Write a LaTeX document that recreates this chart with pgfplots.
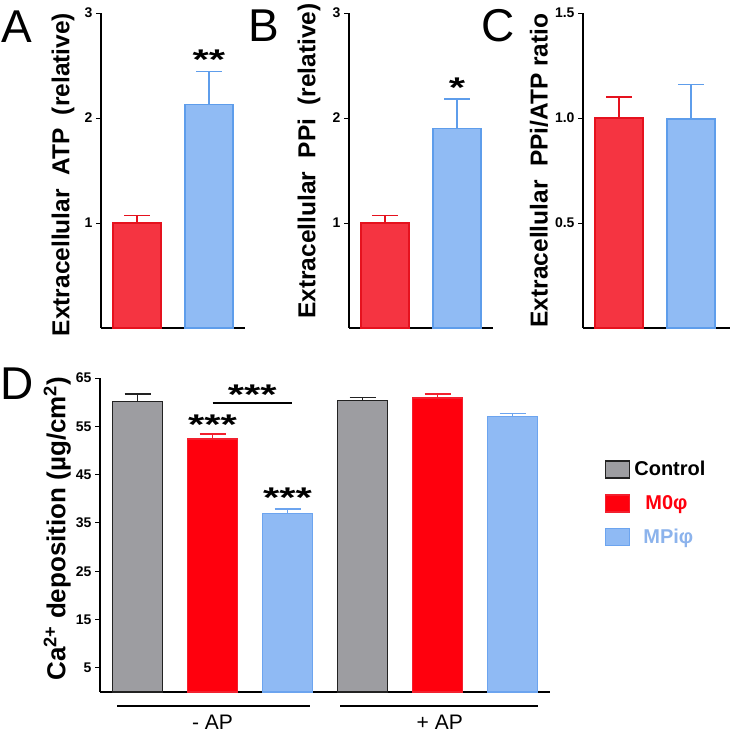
\documentclass[border=0pt]{standalone}
\usepackage{pgfplots}
\pgfplotsset{compat=1.18}
\usepackage{fontspec}
\setmainfont{Liberation Sans}
\definecolor{redA}{HTML}{F53441}
\definecolor{redAe}{HTML}{E5121E}
\definecolor{blueA}{HTML}{90BBF4}
\definecolor{blueAe}{HTML}{5E9DEB}
\definecolor{grayD}{HTML}{9D9DA1}
\definecolor{grayDe}{HTML}{222222}
\definecolor{redD}{HTML}{FF000D}
\definecolor{redDe}{HTML}{F2202E}
\definecolor{blueD}{HTML}{8FBAF4}
\definecolor{blueDe}{HTML}{6CA4EF}
\definecolor{blueT}{HTML}{8CB3EC}
\tikzset{starnode/.style={font=\bfseries\fontsize{38}{38}\selectfont, anchor=base, inner sep=0,
   xscale=1.1, yscale=0.75, transform shape}}
\pgfplotsset{
 panel/.style={
  scale only axis,
  axis x line=bottom, axis y line=left,
  axis line style={line width=1.1pt, -},
  xtick=\empty,
  ytick style={line width=0.9pt, black},
  tick align=outside, major tick length=5pt,
  ymin=0,
  clip=false,
  ticklabel style={font=\bfseries\fontsize{14}{14}\selectfont},
  /pgf/number format/assume math mode=true,
  every axis y label/.style={rotate=90, anchor=center, font=\bfseries\fontsize{24.5}{24.5}\selectfont},
 },
 bars/.style n args={3}{ybar, bar shift=0pt, bar width=#1, fill=#2, draw=#3, line width=1.4pt,
   error bars/y dir=plus, error bars/y explicit,
   error bars/error mark=|,
   error bars/error bar style={#3, line width=1.4pt},
   error bars/error mark options={#3, line width=1.4pt, mark size=13pt}},
 mylegend/.style={legend image code/.code={\draw[##1] (0pt,-8.5pt) rectangle (24pt,8.5pt);}},
}
\newcommand{\wsp}{\hspace{0.55em}}
\begin{document}
\begin{tikzpicture}
\useasboundingbox (0,0) rectangle (730pt,733pt);
% Panel A
\begin{axis}[panel, at={(101pt,405pt)}, anchor=south west, width=144pt, height=315pt,
  xmin=0.5, xmax=2.5, ymax=3, ytick={1,2,3},
  ylabel={Extracellular\wsp ATP\wsp (relative)},
  ylabel style={at={(axis description cs:-0.264,0.487)}}]
\addplot[bars={48pt}{redA}{redAe}] coordinates {(1,1.0) +- (0,0.07)};
\addplot[bars={48pt}{blueA}{blueAe}] coordinates {(2,2.13) +- (0,0.31)};
\node[starnode] at (axis cs:2,2.462) {**};
\end{axis}
% Panel B
\begin{axis}[panel, at={(349pt,405pt)}, anchor=south west, width=144pt, height=315pt,
  xmin=0.5, xmax=2.5, ymax=3, ytick={1,2,3},
  ylabel={Extracellular\wsp PPi\wsp (relative)},
  ylabel style={at={(axis description cs:-0.278,0.53)}}]
\addplot[bars={48pt}{redA}{redAe}] coordinates {(1,1.0) +- (0,0.07)};
\addplot[bars={48pt}{blueA}{blueAe}] coordinates {(2,1.90) +- (0,0.28)};
\node[starnode] at (axis cs:2,2.195) {*};
\end{axis}
% Panel C
\begin{axis}[panel, at={(583pt,405pt)}, anchor=south west, width=147.6pt, height=315pt,
  xmin=0.5, xmax=2.55, ymax=1.5, ytick={0.5,1.0,1.5},
  yticklabel style={/pgf/number format/.cd, fixed, fixed zerofill, precision=1},
  ylabel={Extracellular\wsp PPi/ATP ratio},
  ylabel style={at={(axis description cs:-0.298,0.5)}}]
\addplot[bars={48pt}{redA}{redAe}] coordinates {(1,1.0) +- (0,0.10)};
\addplot[bars={48pt}{blueA}{blueAe}] coordinates {(2,0.995) +- (0,0.165)};
\end{axis}
% Panel D
\begin{axis}[panel, at={(100pt,41pt)}, anchor=south west, width=450pt, height=314pt,
  xmin=0.5, xmax=6.5, ymax=65, ytick={5,15,...,65},
  ylabel={Ca\textsuperscript{2+} deposition (µg/cm\textsuperscript{2})},
  ylabel style={at={(axis description cs:-0.095,0.52)}, font=\bfseries\fontsize{26}{26}\selectfont},
  legend style={draw=none, fill=none, at={(1.115,0.745)}, anchor=north west,
    font=\bfseries\fontsize{20}{20}\selectfont, row sep=15.5pt,
    nodes={inner xsep=4pt, inner ysep=0pt}},
  legend cell align=left]
\addplot[bars={50pt}{grayD}{grayDe}, mylegend] coordinates {(1,60.1) +- (0,1.6) (4,60.3) +- (0,0.7)};
\addplot[bars={50pt}{redD}{redDe}, mylegend] coordinates {(2,52.4) +- (0,1.0) (5,60.9) +- (0,0.8)};
\addplot[bars={50pt}{blueD}{blueDe}, mylegend] coordinates {(3,36.9) +- (0,1.0) (6,57.0) +- (0,0.6)};
\addlegendentry{Control}
\addlegendentry{\hspace{11pt}\textcolor{redD}{M0φ}}
\addlegendentry{\hspace{9pt}\textcolor{blueT}{MPiφ}}
\node[starnode] at (axis cs:2,53.3) {***};
\node[starnode] at (axis cs:3,38.2) {***};
\draw[line width=1.8pt] (axis cs:2,59.8) -- (axis cs:3.06,59.8);
\node[starnode] at (axis cs:2.53,59.6) {***};
\draw[line width=1.2pt] (axis cs:0.73,-2.9) -- (axis cs:3.3,-2.9);
\draw[line width=1.2pt] (axis cs:3.7,-2.9) -- (axis cs:6.34,-2.9);
\node[font=\fontsize{21}{21}\selectfont] at (axis cs:2.0,-6.3) {- AP};
\node[font=\fontsize{21}{21}\selectfont] at (axis cs:5.03,-6.3) {+ AP};
\end{axis}
\node[anchor=base west, inner sep=0, font=\fontsize{46}{46}\selectfont] at (1pt,690pt) {A};
\node[anchor=base west, inner sep=0, font=\fontsize{46}{46}\selectfont] at (248pt,691pt) {B};
\node[anchor=base west, inner sep=0, font=\fontsize{46}{46}\selectfont] at (481pt,691pt) {C};
\node[anchor=base west, inner sep=0, font=\fontsize{46}{46}\selectfont] at (0pt,333pt) {D};
\end{tikzpicture}
\end{document}
